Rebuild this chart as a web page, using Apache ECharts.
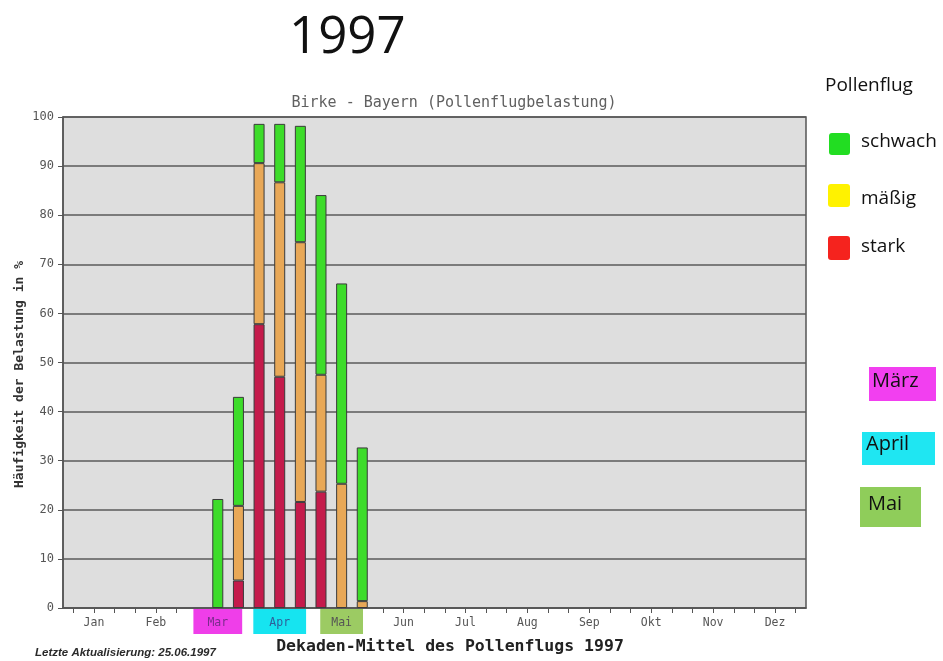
<!DOCTYPE html>
<html>
<head>
<meta charset="utf-8">
<script src="https://cdn.jsdelivr.net/npm/echarts@6/dist/echarts.min.js"></script>
<style>
html,body{margin:0;padding:0;background:#fff;}
#chart{width:943px;height:661px;}
</style>
</head>
<body>
<div id="chart"></div>
<script>
// ---- data ----
var months = ['Jan','Feb','Mar','Apr','Mai','Jun','Jul','Aug','Sep','Okt','Nov','Dez'];
var decadeSuffix = ['I','II','III'];
var yTicks = [0,10,20,30,40,50,60,70,80,90,100];
// 36 decades (3 per month), values in % (segment heights)
var stark   = [null,null,null, null,null,null, null,null,5.6,  57.8,47.1,21.6, 23.7,null,null, null,null,null, null,null,null, null,null,null, null,null,null, null,null,null, null,null,null, null,null,null];
var maessig = [null,null,null, null,null,null, null,null,15.2, 32.8,39.6,52.9, 23.8,25.3,1.4, null,null,null, null,null,null, null,null,null, null,null,null, null,null,null, null,null,null, null,null,null];
var schwach = [null,null,null, null,null,null, null,22.2,22.2, 8.0,11.9,23.7, 36.6,40.8,31.3, null,null,null, null,null,null, null,null,null, null,null,null, null,null,null, null,null,null, null,null,null];
var seriesNames = ['stark','mäßig','schwach'];
var legendLabels = ['schwach','mäßig','stark'];
var monthNotes = ['März','April','Mai'];

var decades = [];
months.forEach(function(m){ decadeSuffix.forEach(function(s){ decades.push(m + ' ' + s); }); });

var chart = echarts.init(document.getElementById('chart'));
var mono = 'DejaVu Sans Mono';
var hand = 'Open Sans';

var option = {
  backgroundColor: '#ffffff',
  animation: false,
  title: {
    text: 'Birke - Bayern (Pollenflugbelastung)',
    left: 449, top: 91, textAlign: 'center',
    textStyle: {fontFamily: mono, fontSize: 15, fontWeight: 'normal', color: '#606060'}
  },
  grid: {left: 63, right: 137, top: 117, bottom: 53, show: true, backgroundColor: '#dedede', borderColor: '#555', borderWidth: 1.5},
  xAxis: {
    type: 'category',
    data: decades,
    boundaryGap: true,
    name: 'Dekaden-Mittel des Pollenflugs 1997',
    nameLocation: 'middle',
    nameGap: 30,
    nameMoveOverlap: false,
    nameTextStyle: {fontFamily: mono, fontSize: 16.5, fontWeight: 'bold', color: '#222', padding: [0,0,0,31]},
    axisLine: {lineStyle: {color: '#555', width: 1.5}},
    axisTick: {show: true, interval: 0, alignWithLabel: true, length: 5, lineStyle: {color: '#555'}},
    axisLabel: {
      interval: 0,
      margin: 1,
      formatter: function(v, i){
        if (i % 3 !== 1) return '';
        var m = v.split(' ')[0];
        if (m === 'Mar') return '{mar|' + m + '}';
        if (m === 'Apr') return '{apr|' + m + '}';
        if (m === 'Mai') return '{mai|' + m + '}';
        return '{n|' + m + '}';
      },
      rich: {
        n:   {fontFamily: mono, fontSize: 11.5, color: '#555', padding: [8,0,5,0]},
        mar: {fontFamily: mono, fontSize: 11.5, color: '#7a2c8c', backgroundColor: '#ef3ee9', padding: [8,14,5,14]},
        apr: {fontFamily: mono, fontSize: 11.5, color: '#2f5f9a', backgroundColor: '#16e4f0', padding: [8,16,5,16]},
        mai: {fontFamily: mono, fontSize: 11.5, color: '#555', backgroundColor: '#9ccb63', padding: [8,11,5,11]}
      }
    },
    splitLine: {show: false}
  },
  yAxis: {
    type: 'value',
    min: 0, max: 100, interval: 10,
    name: 'Häufigkeit der Belastung in %',
    nameLocation: 'middle',
    nameGap: 37,
    nameMoveOverlap: false,
    nameTextStyle: {fontFamily: mono, fontSize: 13, fontWeight: 'bold', color: '#333', padding: [0,24,0,0]},
    axisLine: {show: true, lineStyle: {color: '#555', width: 1.5}},
    axisTick: {show: true, length: 5, lineStyle: {color: '#555'}},
    axisLabel: {fontFamily: mono, fontSize: 12, color: '#555', margin: 9,
      formatter: function(v){ return yTicks.indexOf(v) >= 0 ? String(v) : ''; }},
    splitLine: {show: true, lineStyle: {color: '#5a5a5a', width: 1.5}}
  },
  series: [
    {name: seriesNames[0], type: 'bar', stack: 'a', data: stark, barWidth: 11,
     itemStyle: {color: '#c41b4b', borderColor: '#3a3a3a', borderWidth: 1}},
    {name: seriesNames[1], type: 'bar', stack: 'a', data: maessig, barWidth: 11,
     itemStyle: {color: '#e8a857', borderColor: '#3a3a3a', borderWidth: 1}},
    {name: seriesNames[2], type: 'bar', stack: 'a', data: schwach, barWidth: 11,
     itemStyle: {color: '#3ddc2a', borderColor: '#3a3a3a', borderWidth: 1}}
  ],
  graphic: [
    {type: 'text', left: 289, top: 13, style: {text: '1997', fontFamily: hand, fontSize: 51, fontWeight: 400, fill: '#111'}},
    {type: 'text', left: 35, top: 647, style: {text: 'Letzte Aktualisierung: 25.06.1997', fontFamily: 'Liberation Sans', fontSize: 11.5, fontStyle: 'italic', fontWeight: 'bold', fill: '#2a2a2a'}},
    // hand-drawn legend
    {type: 'text', left: 825, top: 76, style: {text: 'Pollenflug', fontFamily: hand, fontSize: 19, fill: '#111'}},
    {type: 'rect', shape: {x: 829, y: 133, width: 21, height: 22, r: 3}, style: {fill: '#22dd22'}},
    {type: 'rect', shape: {x: 828, y: 184, width: 22, height: 23, r: 3}, style: {fill: '#fff200'}},
    {type: 'rect', shape: {x: 828, y: 236, width: 22, height: 24, r: 3}, style: {fill: '#f5231e'}},
    {type: 'text', left: 861, top: 132, style: {text: legendLabels[0], fontFamily: hand, fontSize: 19, fill: '#111'}},
    {type: 'text', left: 861, top: 189, style: {text: legendLabels[1], fontFamily: hand, fontSize: 19, fill: '#111'}},
    {type: 'text', left: 861, top: 237, style: {text: legendLabels[2], fontFamily: hand, fontSize: 19, fill: '#111'}},
    // month notes
    {type: 'rect', shape: {x: 869, y: 367, width: 67, height: 34}, style: {fill: '#f23ff0'}},
    {type: 'text', left: 872, top: 371, style: {text: monthNotes[0], fontFamily: hand, fontSize: 20, fill: '#111'}},
    {type: 'rect', shape: {x: 862, y: 432, width: 73, height: 33}, style: {fill: '#1fe6f2'}},
    {type: 'text', left: 866, top: 434, style: {text: monthNotes[1], fontFamily: hand, fontSize: 20, fill: '#111'}},
    {type: 'rect', shape: {x: 860, y: 487, width: 61, height: 40}, style: {fill: '#8fcd5a'}},
    {type: 'text', left: 868, top: 494, style: {text: monthNotes[2], fontFamily: hand, fontSize: 20, fill: '#111'}}
  ]
};
chart.setOption(option);
</script>
</body>
</html>
